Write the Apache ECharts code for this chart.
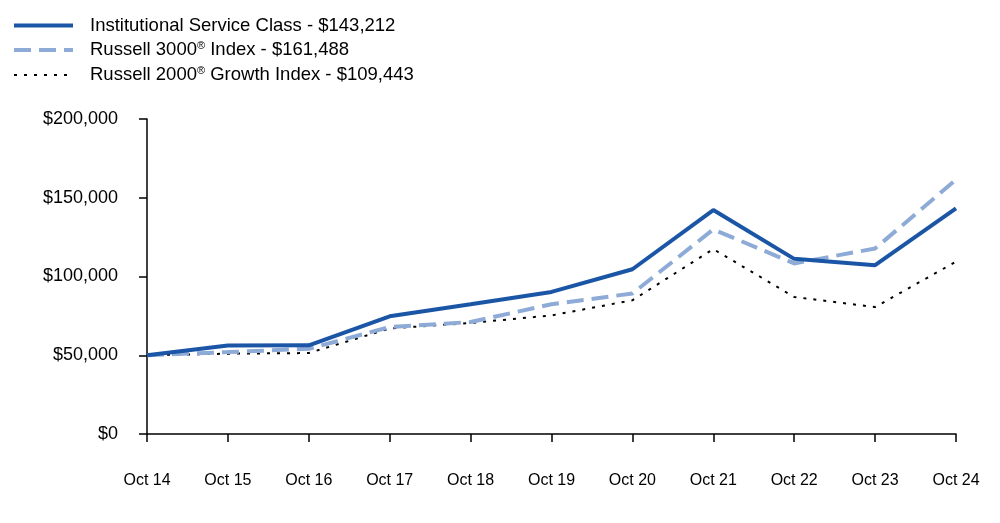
<!DOCTYPE html>
<html>
<head>
<meta charset="utf-8">
<script src="https://cdn.jsdelivr.net/npm/echarts@6/dist/echarts.min.js"></script>
<style>
html,body{margin:0;padding:0;background:#fff;}
#chart{width:1000px;height:523px;}
</style>
</head>
<body>
<div id="chart"></div>
<script>
const categories = ['Oct 14','Oct 15','Oct 16','Oct 17','Oct 18','Oct 19','Oct 20','Oct 21','Oct 22','Oct 23','Oct 24'];
const institutional = [50000, 56200, 56300, 74700, 82400, 90200, 104600, 142200, 111200, 107200, 143212];
const russell3000 = [50000, 52000, 54100, 67900, 71100, 82400, 89200, 129900, 108300, 117800, 161488];
const russell2000g = [50000, 51000, 51400, 67000, 70500, 75300, 84900, 117400, 87000, 80600, 109443];
const yTicks = [0, 50000, 100000, 150000, 200000];
const legendNames = ['Institutional Service Class - $143,212', 'Russell 3000® Index - $161,488', 'Russell 2000® Growth Index - $109,443'];

const font = 'Liberation Sans, Arial, sans-serif';
const C1 = '#1b56a6', C2 = '#8eabd7', C3 = '#000';
const chart = echarts.init(document.getElementById('chart'));
function fmtMoney(v){ return '$' + v.toString().replace(/\B(?=(\d{3})+(?!\d))/g, ','); }
chart.setOption({
  animation: false,
  backgroundColor: '#fff',
  legend: {
    orient: 'vertical',
    left: 12,
    top: 16,
    padding: 0,
    itemWidth: 59,
    itemHeight: 14,
    itemGap: 5,
    data: [
      { name: legendNames[0], itemStyle: { opacity: 0 }, lineStyle: { color: C1, width: 4 } },
      { name: legendNames[1], itemStyle: { opacity: 0 }, lineStyle: { color: C2, width: 4, type: [17, 8] } },
      { name: legendNames[2], itemStyle: { opacity: 0 }, lineStyle: { color: C3, width: 2, type: [3, 7] } }
    ],
    formatter: function(name){
      const i = name.indexOf('®');
      if (i < 0) return '{a|' + name + '}';
      return '{a|' + name.slice(0, i) + '}{s|®}{a|' + name.slice(i + 1) + '}';
    },
    textStyle: {
      fontFamily: font,
      fontSize: 18.5,
      color: '#000',
      padding: [0,0,0,12],
      rich: {
        a: { fontFamily: font, fontSize: 18.5, lineHeight: 21, color: '#000' },
        s: { fontFamily: font, fontSize: 11, lineHeight: 21, color: '#000', padding: [0,0,9,0] }
      }
    }
  },
  grid: { left: 147, right: 44, top: 119, bottom: 89, containLabel: false },
  xAxis: {
    type: 'category',
    data: categories,
    boundaryGap: false,
    axisLine: { lineStyle: { color: '#000', width: 1.5 } },
    axisTick: { show: true, length: 8, alignWithLabel: true, lineStyle: { color: '#000', width: 1.5 } },
    axisLabel: { fontFamily: font, fontSize: 16, color: '#000', margin: 39, interval: 0 },
    splitLine: { show: false }
  },
  yAxis: {
    type: 'value',
    min: yTicks[0],
    max: yTicks[yTicks.length - 1],
    interval: yTicks[1] - yTicks[0],
    axisLine: { show: true, lineStyle: { color: '#000', width: 1.5 } },
    axisTick: { show: true, length: 8, lineStyle: { color: '#000', width: 1.5 } },
    axisLabel: { fontFamily: font, fontSize: 18, color: '#000', margin: 29, formatter: fmtMoney },
    splitLine: { show: false }
  },
  series: [
    { name: legendNames[0], type: 'line', data: institutional, symbol: 'none', z: 3,
      lineStyle: { color: C1, width: 4 }, itemStyle: { color: C1 } },
    { name: legendNames[1], type: 'line', data: russell3000, symbol: 'none', z: 2,
      lineStyle: { color: C2, width: 4, type: [17, 8] }, itemStyle: { color: C2 } },
    { name: legendNames[2], type: 'line', data: russell2000g, symbol: 'none', z: 1,
      lineStyle: { color: C3, width: 2, type: [3, 7] }, itemStyle: { color: C3 } }
  ]
});
</script>
</body>
</html>
